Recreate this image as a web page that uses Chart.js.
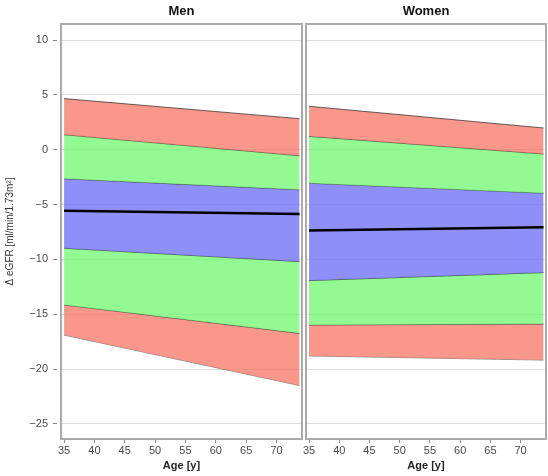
<!DOCTYPE html>
<html>
<head>
<meta charset="utf-8">
<script src="https://cdn.jsdelivr.net/npm/chart.js@4/dist/chart.umd.min.js"></script>
<style>
  html, body { margin: 0; padding: 0; background: #fff; }
  #wrap { position: relative; width: 548px; height: 476px; overflow: hidden; }
  #wrap canvas { position: absolute; top: 0; }
</style>
</head>
<body>
<div id="wrap">
  <canvas id="men" width="304" height="476" style="left:0"></canvas>
  <canvas id="women" width="252" height="476" style="left:296px"></canvas>
</div>
<script>
// Age at the two ends of each band boundary
const ages = [35, 73.8];
const xTicks = [35, 40, 45, 50, 55, 60, 65, 70];
const yTicks = [10, 5, 0, -5, -10, -15, -20, -25];

// Men: band boundaries (change in eGFR) at ages 35 and 73.8
const menTop     = [4.66, 2.83];
const menUpper   = [1.37, -0.55];
const menMidHigh = [-2.65, -3.65];
const menMean    = [-5.57, -5.85];
const menMidLow  = [-8.98, -10.2];
const menLower   = [-14.15, -16.74];
const menBottom  = [-16.9, -21.5];

// Women: band boundaries
const womenTop     = [3.96, 1.98];
const womenUpper   = [1.22, -0.39];
const womenMidHigh = [-3.05, -3.96];
const womenMean    = [-7.37, -7.06];
const womenMidLow  = [-11.93, -11.2];
const womenLower   = [-15.98, -15.89];
const womenBottom  = [-18.8, -19.18];

const RED   = 'rgba(247,116,99,0.75)';
const GREEN = 'rgba(111,247,111,0.75)';
const BLUE  = 'rgba(106,106,247,0.75)';

Chart.defaults.font.family = "'Liberation Sans', Arial, sans-serif";
Chart.defaults.animation = false;

function pts(v) { return ages.map((a, i) => ({ x: a, y: v[i] })); }

function bandDatasets(top, upper, midHigh, mean, midLow, lower, bottom) {
  const edge = { borderColor: 'rgba(30,30,30,0.85)', borderWidth: 0.8, pointRadius: 0, tension: 0 };
  return [
    { ...edge, data: pts(top),     fill: '+1', backgroundColor: RED },
    { ...edge, data: pts(upper),   fill: '+1', backgroundColor: GREEN },
    { ...edge, data: pts(midHigh), fill: '+1', backgroundColor: BLUE },
    { ...edge, data: pts(midLow),  fill: '+1', backgroundColor: GREEN },
    { ...edge, data: pts(lower),   fill: '+1', backgroundColor: RED },
    { ...edge, data: pts(bottom),  fill: false, borderColor: 'rgba(90,90,90,0.8)' },
    { data: pts(mean), fill: false, borderColor: '#000', borderWidth: 2.5, pointRadius: 0, order: -1 }
  ];
}

// Panel frame and strip title
const panelPlugin = {
  id: 'panel',
  afterDatasetsDraw(chart, args, opts) {
    const { ctx, chartArea: a } = chart;
    ctx.save();
    ctx.strokeStyle = '#ababab';
    ctx.lineWidth = 2;
    ctx.strokeRect(a.left, a.top, a.right - a.left, a.bottom - a.top);
    ctx.fillStyle = '#111';
    ctx.font = "bold 13px 'Liberation Sans', Arial, sans-serif";
    ctx.textAlign = 'center';
    ctx.textBaseline = 'middle';
    ctx.fillText(opts.text, (a.left + a.right) / 2, 11);
    ctx.restore();
  }
};

function makeOptions(title, showY, padLeft, padRight) {
  return {
    responsive: false,
    layout: { padding: { left: padLeft, right: padRight, top: 24, bottom: 0 } },
    plugins: { legend: { display: false }, tooltip: { enabled: false }, panel: { text: title } },
    scales: {
      x: {
        type: 'linear', min: 34.5, max: 74.2,
        afterBuildTicks: s => { s.ticks = xTicks.map(v => ({ value: v })); },
        afterFit: s => { s.height = 37; },
        grid: { drawOnChartArea: false, drawTicks: true, tickLength: 4, tickColor: '#8a8a8a' },
        border: { display: false },
        ticks: { autoSkip: false, maxRotation: 0, padding: 1, color: '#4a4a4a', font: { size: 11 } },
        title: { display: true, text: 'Age [y]', color: '#222', font: { size: 11, weight: 'bold' }, padding: { top: 0, bottom: 3.4 } }
      },
      y: {
        type: 'linear', min: -26.37, max: 11.46,
        afterBuildTicks: s => { s.ticks = yTicks.map(v => ({ value: v })); },
        afterFit: s => { s.width = showY ? 61 : 0; },
        grid: {
          color: '#dedede', lineWidth: 1,
          drawTicks: showY, tickLength: 8, tickColor: '#8a8a8a', tickBorderDash: [4, 4]
        },
        border: { display: false },
        ticks: {
          display: showY, padding: 5, color: '#4a4a4a', font: { size: 11 },
          callback: v => String(v).replace('-', '\u2212')
        },
        title: {
          display: showY, text: '\u0394 eGFR [ml/min/1.73m\u00B2]', color: '#333',
          font: { size: 10 }, padding: { top: 4, bottom: 0 }
        }
      }
    }
  };
}

new Chart(document.getElementById('men'), {
  type: 'line',
  data: { datasets: bandDatasets(menTop, menUpper, menMidHigh, menMean, menMidLow, menLower, menBottom) },
  options: makeOptions('Men', true, 0, 2),
  plugins: [panelPlugin]
});

new Chart(document.getElementById('women'), {
  type: 'line',
  data: { datasets: bandDatasets(womenTop, womenUpper, womenMidHigh, womenMean, womenMidLow, womenLower, womenBottom) },
  options: makeOptions('Women', false, 10, 2),
  plugins: [panelPlugin]
});
</script>
</body>
</html>
